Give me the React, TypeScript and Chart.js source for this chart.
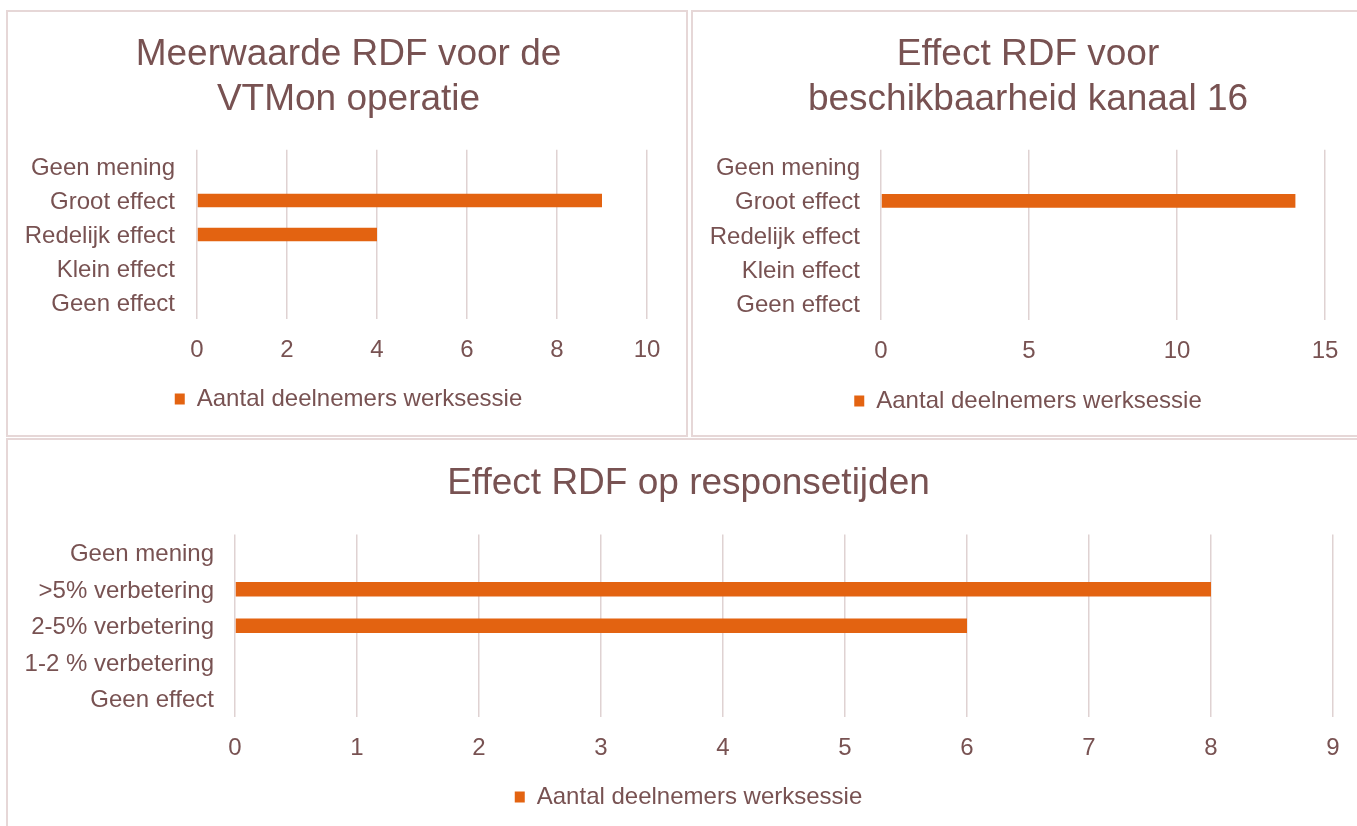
import React, { useEffect, useRef } from "react";
import { Chart, registerables } from "chart.js";

Chart.register(...registerables);

// ---------- data ----------
const seriesLabel = "Aantal deelnemers werksessie";

const chart1Title = ["Meerwaarde RDF voor de", "VTMon operatie"];
const chart1Categories = ["Geen mening", "Groot effect", "Redelijk effect", "Klein effect", "Geen effect"];
const chart1Values = [0, 9, 4, 0, 0];
const chart1Max = 10;
const chart1Step = 2;

const chart2Title = ["Effect RDF voor", "beschikbaarheid kanaal 16"];
const chart2Categories = ["Geen mening", "Groot effect", "Redelijk effect", "Klein effect", "Geen effect"];
const chart2Values = [0, 14, 0, 0, 0];
const chart2Max = 15;
const chart2Step = 5;

const chart3Title = "Effect RDF op responsetijden";
const chart3Categories = ["Geen mening", ">5% verbetering", "2-5% verbetering", "1-2 % verbetering", "Geen effect"];
const chart3Values = [0, 8, 6, 0, 0];
const chart3Max = 9;
const chart3Step = 1;

// ---------- style ----------
const FONT = "'Liberation Sans', Arial, Helvetica, sans-serif";
const TEXT = "#785252";
const ORANGE = "#E36311";
const GRID = "#DFD2D2";
const BORDER = "#E6D7D7";

type PanelProps = {
  title: string | string[];
  categories: string[];
  values: number[];
  max: number;
  step: number;
  left: number;
  top: number;
  width: number;
  height: number;
  yAxisWidth: number;
  rightWidth: number;
  labelPad: number;
  titlePadTop: number;
  titlePadBottom: number;
  padBottom: number;
  xAxisHeight: number;
};

function BarPanel(p: PanelProps) {
  const ref = useRef<HTMLCanvasElement>(null);
  useEffect(() => {
    const chart = new Chart(ref.current as HTMLCanvasElement, {
      type: "bar",
      data: {
        labels: p.categories,
        datasets: [
          {
            label: seriesLabel,
            data: p.values,
            backgroundColor: ORANGE,
            borderWidth: 0,
            barPercentage: 0.4,
            categoryPercentage: 1,
          },
        ],
      },
      options: {
        indexAxis: "y",
        responsive: false,
        maintainAspectRatio: false,
        animation: false,
        layout: { padding: { top: 0, left: 0, right: 0, bottom: p.padBottom } },
        plugins: {
          title: {
            display: true,
            text: p.title,
            color: TEXT,
            font: { family: FONT, size: 37, weight: "normal", lineHeight: 1.2 },
            padding: { top: p.titlePadTop, bottom: p.titlePadBottom },
          },
          legend: {
            position: "bottom",
            labels: {
              color: TEXT,
              font: { family: FONT, size: 24 },
              boxWidth: 10,
              boxHeight: 11,
              padding: 10,
            },
          },
          tooltip: { enabled: false },
        },
        scales: {
          x: {
            min: 0,
            max: p.max,
            ticks: {
              stepSize: p.step,
              color: TEXT,
              font: { family: FONT, size: 24 },
              padding: 17,
              maxRotation: 0,
            },
            grid: { color: GRID, lineWidth: 1.5, drawTicks: false },
            border: { display: false },
            afterFit: (s: any) => {
              s.height = p.xAxisHeight;
            },
          },
          y: {
            grid: { display: false, drawTicks: false },
            border: { display: false },
            ticks: {
              color: TEXT,
              font: { family: FONT, size: 24 },
              padding: p.labelPad,
              labelOffset: 2,
            },
            afterFit: (s: any) => {
              s.width = p.yAxisWidth;
            },
          },
          y2: {
            type: "category",
            position: "right",
            grid: { display: false, drawTicks: false },
            border: { display: false },
            ticks: { display: false },
            afterFit: (s: any) => {
              s.width = p.rightWidth;
            },
          },
        },
      } as any,
    });
    return () => chart.destroy();
  }, []);
  return (
    <canvas
      ref={ref}
      width={p.width}
      height={p.height}
      style={{ position: "absolute", left: p.left, top: p.top, width: p.width, height: p.height }}
    />
  );
}

function Frame({ left, top, width, height }: { left: number; top: number; width: number; height: number }) {
  return (
    <div
      style={{
        position: "absolute",
        left,
        top,
        width,
        height,
        boxSizing: "border-box",
        border: `2px solid ${BORDER}`,
        pointerEvents: "none",
      }}
    />
  );
}

export default function App() {
  return (
    <div
      style={{
        position: "fixed",
        left: 0,
        top: 0,
        width: 1357,
        height: 826,
        overflow: "hidden",
        background: "#ffffff",
      }}
    >
      <BarPanel
        title={chart1Title}
        categories={chart1Categories}
        values={chart1Values}
        max={chart1Max}
        step={chart1Step}
        left={8}
        top={11}
        width={681}
        height={425}
        yAxisWidth={189}
        rightWidth={42}
        labelPad={22}
        titlePadTop={22}
        titlePadBottom={28}
        padBottom={15}
        xAxisHeight={58}
      />
      <BarPanel
        title={chart2Title}
        categories={chart2Categories}
        values={chart2Values}
        max={chart2Max}
        step={chart2Step}
        left={692}
        top={11}
        width={672}
        height={425}
        yAxisWidth={189}
        rightWidth={39}
        labelPad={21}
        titlePadTop={22}
        titlePadBottom={28}
        padBottom={13}
        xAxisHeight={59}
      />
      <BarPanel
        title={chart3Title}
        categories={chart3Categories}
        values={chart3Values}
        max={chart3Max}
        step={chart3Step}
        left={8}
        top={439}
        width={1361}
        height={387}
        yAxisWidth={227}
        rightWidth={36}
        labelPad={21}
        titlePadTop={23}
        titlePadBottom={28}
        padBottom={7}
        xAxisHeight={58}
      />
      <Frame left={6} top={10} width={682} height={427} />
      <Frame left={691} top={10} width={700} height={427} />
      <Frame left={6} top={438} width={1400} height={420} />
    </div>
  );
}
